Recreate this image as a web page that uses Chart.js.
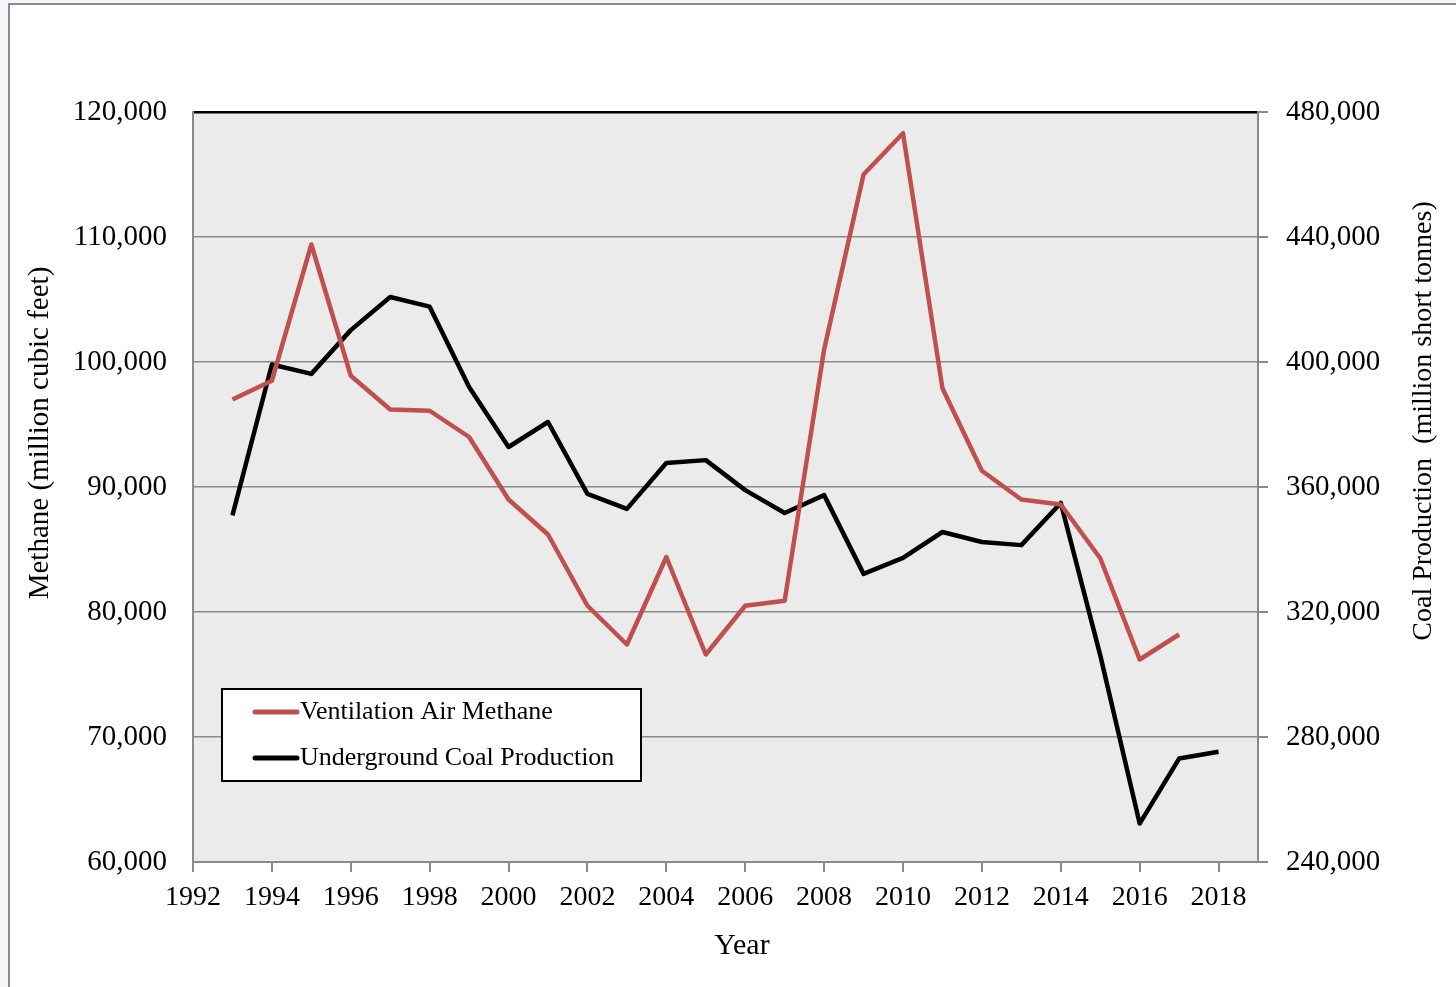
<!DOCTYPE html>
<html>
<head>
<meta charset="utf-8">
<script src="https://cdn.jsdelivr.net/npm/chart.js@4.4.1/dist/chart.umd.min.js"></script>
<style>
  html, body { margin: 0; padding: 0; background: #f3f5f9; overflow: hidden; }
  #frame { position: absolute; left: 8px; top: 3px; width: 1470px; height: 1000px;
           border: 2px solid #8a8a8a; background: #fff; }
  #wrap { position: absolute; left: 0; top: 0; width: 1456px; height: 987px; }
</style>
</head>
<body>
<div id="frame"></div>
<div id="wrap"><canvas id="myChart" width="1456" height="987"></canvas></div>
<script>
// data
const methaneYears = [1993, 1994, 1995, 1996, 1997, 1998, 1999, 2000, 2001, 2002, 2003, 2004, 2005,
  2006, 2007, 2008, 2009, 2010, 2011, 2012, 2013, 2014, 2015, 2016, 2017];
const methane = [97000, 98500, 109400, 98900, 96200, 96100, 94000, 89000, 86200, 80500, 77400, 84400,
  76600, 80500, 80900, 101000, 115000, 118300, 97900, 91300, 89000, 88600, 84300, 76200, 78200];

const coalYears = [1993, 1994, 1995, 1996, 1997, 1998, 1999, 2000, 2001, 2002, 2003, 2004, 2005,
  2006, 2007, 2008, 2009, 2010, 2011, 2012, 2013, 2014, 2015, 2016, 2017, 2018];
const coal = [350900, 399200, 396200, 410200, 420800, 417700, 392000, 372800, 380800, 357800, 353000,
  367700, 368600, 359000, 351700, 357400, 332200, 337300, 345600, 342400, 341400, 354900, 306200,
  252300, 273100, 275300];

const seriesNames = ["Ventilation Air Methane", "Underground Coal Production"];
const seriesColors = ["#c0504d", "#000000"];
const xTitle = "Year";
const leftTitle = "Methane (million cubic feet)";
const rightTitle = "Coal Production  (million short tonnes)";

const serif = '"Liberation Serif", "Times New Roman", serif';
const axisGray = "#8a8a8a";

Chart.defaults.font.family = serif;
Chart.defaults.color = "#000";

const toPoints = (xs, ys) => xs.map((x, i) => ({ x: x, y: ys[i] }));

const plotBackground = {
  id: "plotBackground",
  beforeDraw(chart) {
    const { ctx, chartArea: a } = chart;
    ctx.save();
    ctx.fillStyle = "#ebebeb";
    ctx.fillRect(a.left, a.top, a.right - a.left, a.bottom - a.top);
    ctx.restore();
  },
};

// rotated text helper for the axis titles
function drawTitle(ctx, text, x, y, size, angle) {
  ctx.save();
  ctx.fillStyle = "#000";
  ctx.textAlign = "center";
  ctx.textBaseline = "middle";
  ctx.font = size + "px " + serif;
  ctx.translate(x, y);
  ctx.rotate(angle);
  ctx.fillText(text, 0, 0);
  ctx.restore();
}

const axisTitles = {
  id: "axisTitles",
  afterDraw(chart) {
    const ctx = chart.ctx;
    drawTitle(ctx, xTitle, 742, 946, 30, 0);
    drawTitle(ctx, leftTitle, 40, 433, 29, -Math.PI / 2);
    drawTitle(ctx, rightTitle, 1424, 421, 28, -Math.PI / 2);
  },
};

const boxLegend = {
  id: "boxLegend",
  afterDatasetsDraw(chart) {
    const ctx = chart.ctx;
    const x0 = 222, y0 = 689, w = 419, h = 92;
    ctx.save();
    ctx.fillStyle = "#fff";
    ctx.fillRect(x0, y0, w, h);
    ctx.strokeStyle = "#000";
    ctx.lineWidth = 2;
    ctx.strokeRect(x0, y0, w, h);
    ctx.font = "26px " + serif;
    ctx.textBaseline = "middle";
    ctx.lineCap = "round";
    chart.data.datasets.forEach((ds, i) => {
      const y = 712 + i * 46;
      ctx.strokeStyle = ds.borderColor;
      ctx.lineWidth = 5;
      ctx.beginPath();
      ctx.moveTo(255, y);
      ctx.lineTo(297, y);
      ctx.stroke();
      ctx.fillStyle = "#000";
      ctx.fillText(ds.label, 300, y);
    });
    ctx.restore();
  },
};

const ctx = document.getElementById("myChart").getContext("2d");
const myChart = new Chart(ctx, {
  type: "line",
  data: {
    datasets: [
      {
        label: seriesNames[0],
        data: toPoints(methaneYears, methane),
        borderColor: seriesColors[0],
        borderWidth: 4.5,
        pointRadius: 0,
        borderJoinStyle: "round",
        yAxisID: "y",
      },
      {
        label: seriesNames[1],
        data: toPoints(coalYears, coal),
        borderColor: seriesColors[1],
        borderWidth: 4.5,
        pointRadius: 0,
        borderJoinStyle: "round",
        yAxisID: "y1",
      },
    ],
  },
  options: {
    responsive: false,
    animation: false,
    layout: { padding: { top: 112, left: 0, right: 0, bottom: 0 } },
    plugins: { legend: { display: false }, tooltip: { enabled: false } },
    scales: {
      x: {
        type: "linear",
        min: 1992,
        max: 2019,
        afterFit: (s) => { s.height = 125; },
        ticks: { stepSize: 2, includeBounds: false, font: { size: 28 }, padding: 9, maxRotation: 0,
                 callback: (v) => String(v) },
        grid: { drawOnChartArea: false, drawTicks: true, tickLength: 10, color: axisGray, lineWidth: 2 },
        border: { color: axisGray, width: 2 },
      },
      y: {
        position: "left",
        min: 60000,
        max: 120000,
        afterFit: (s) => { s.width = 193; },
        ticks: { stepSize: 10000, font: { size: 29 }, padding: 26,
                 callback: (v) => v.toLocaleString("en-US") },
        grid: {
          drawTicks: false,
          color: (c) => (c.tick && c.tick.value === 120000 ? "#000" : axisGray),
          lineWidth: (c) => (c.tick && c.tick.value === 120000 ? 2.5 : 1.5),
        },
        border: { color: axisGray, width: 2 },
      },
      y1: {
        position: "right",
        min: 240000,
        max: 480000,
        afterFit: (s) => { s.width = 198; },
        ticks: { stepSize: 40000, font: { size: 29 }, padding: 18,
                 callback: (v) => v.toLocaleString("en-US") },
        grid: { drawOnChartArea: false, drawTicks: true, tickLength: 10, color: axisGray, lineWidth: 2 },
        border: { color: axisGray, width: 2 },
      },
    },
  },
  plugins: [plotBackground, boxLegend, axisTitles],
});
</script>
</body>
</html>
